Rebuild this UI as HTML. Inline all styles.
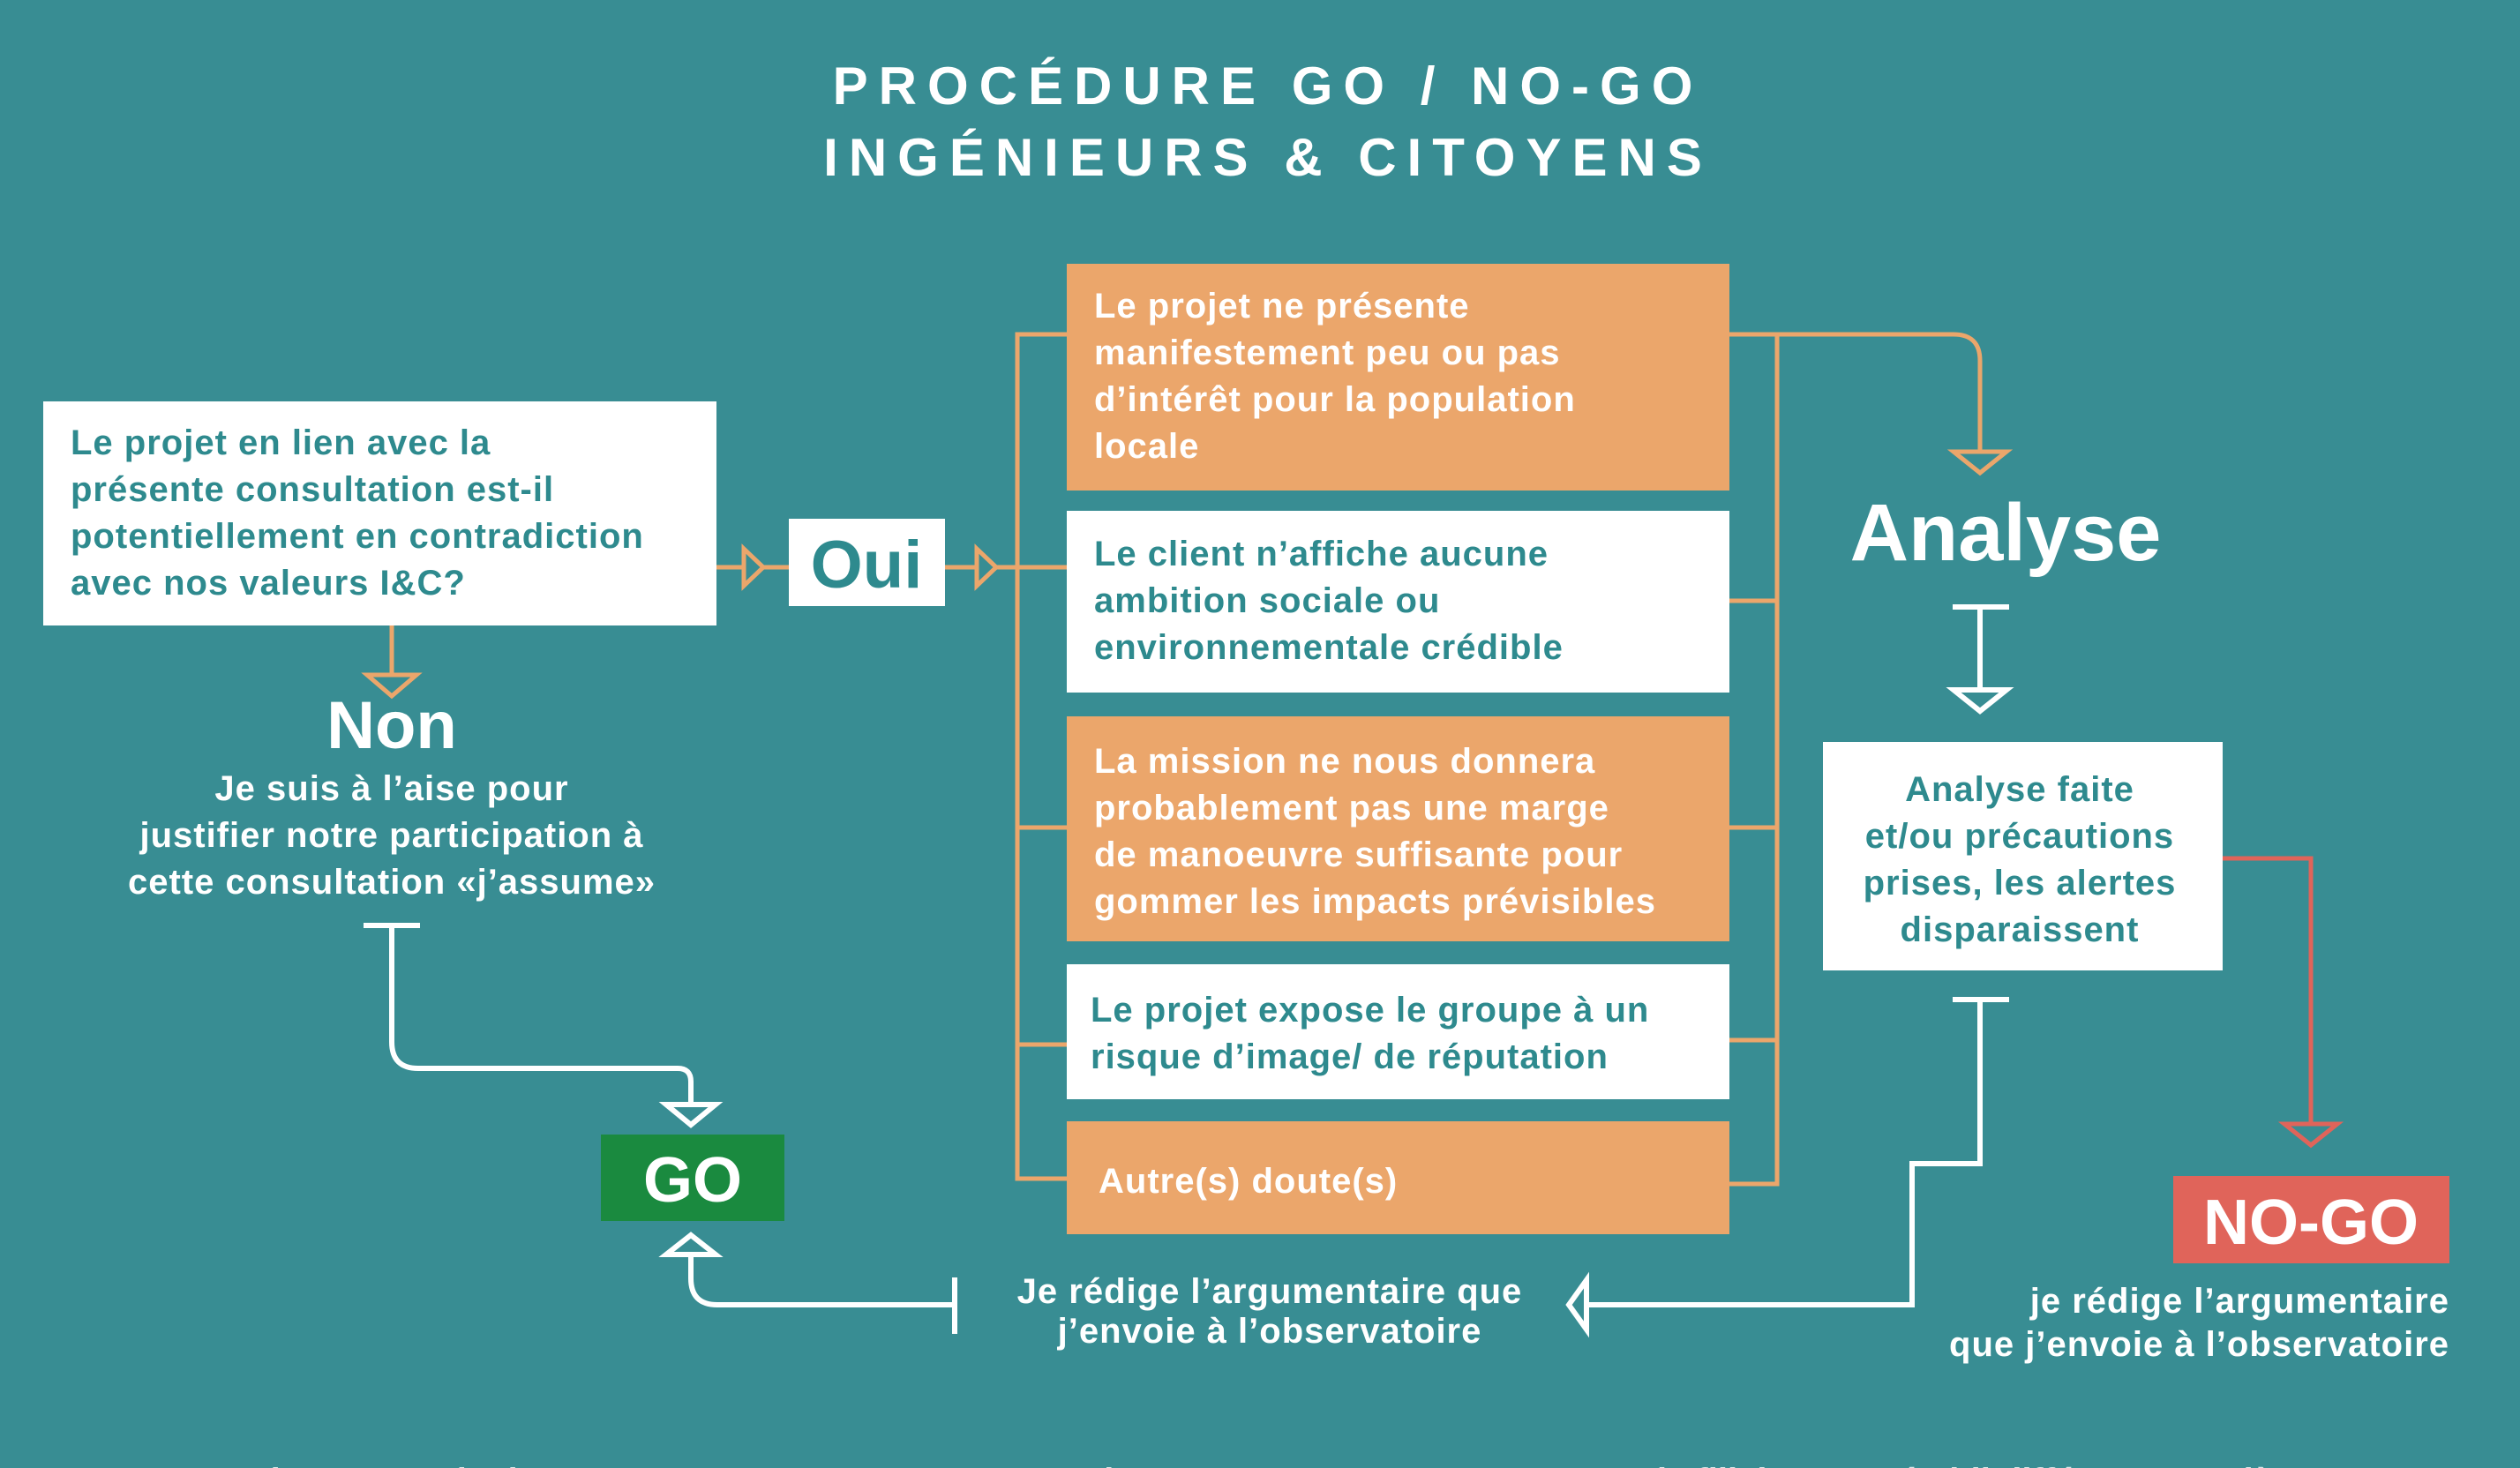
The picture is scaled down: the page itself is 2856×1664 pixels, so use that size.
<!DOCTYPE html>
<html><head><meta charset="utf-8"><style>
html,body{margin:0;padding:0;background:#388d93;}
svg{display:block;}
text{font-family:"Liberation Sans",sans-serif;font-weight:bold;}
</style></head><body>
<svg width="2856" height="1664" viewBox="0 0 2856 1664" xmlns="http://www.w3.org/2000/svg">
<rect width="2856" height="1664" fill="#388d93"/>
<g fill="#fff" font-size="60" text-anchor="middle" letter-spacing="12">
<text x="1437" y="118">PROCÉDURE GO / NO-GO</text>
<text x="1437" y="199">INGÉNIEURS &amp; CITOYENS</text>
</g>

<rect x="49" y="455" width="763" height="254" fill="#fff"/>
<g fill="#2e8a8e" font-size="40" letter-spacing="1">
<text x="80" y="515">Le projet en lien avec la</text>
<text x="80" y="568">présente consultation est-il</text>
<text x="80" y="621">potentiellement en contradiction</text>
<text x="80" y="674">avec nos valeurs I&amp;C?</text>
</g>

<g stroke="#eba66b" stroke-width="5" fill="none">
<line x1="812" y1="643" x2="894" y2="643"/>
<polygon points="843,622 865,643 843,664" fill="#388d93"/>
<line x1="1071" y1="643" x2="1209" y2="643"/>
<polygon points="1107,622 1129,643 1107,664" fill="#388d93"/>
<polyline points="1209,379 1153,379 1153,1336 1209,1336"/>
<line x1="1153" y1="938" x2="1209" y2="938"/>
<line x1="1153" y1="1184" x2="1209" y2="1184"/>
<polyline points="1960,379 2014,379 2014,1342 1960,1342"/>
<line x1="1960" y1="681" x2="2014" y2="681"/>
<line x1="1960" y1="938" x2="2014" y2="938"/>
<line x1="1960" y1="1179" x2="2014" y2="1179"/>
<path d="M2014,379 H2214 Q2244,379 2244,409 V520"/>
<polygon points="2214,512 2274,512 2244,536" fill="#388d93"/>
<line x1="444" y1="709" x2="444" y2="770"/>
<polygon points="416,765 472,765 444,789" fill="#388d93"/>
</g>
<rect x="894" y="588" width="177" height="99" fill="#fff"/>
<text x="982" y="666" fill="#2e8a8e" font-size="76" text-anchor="middle">Oui</text>

<rect x="1209" y="299" width="751" height="257" fill="#eba66b"/>
<rect x="1209" y="579" width="751" height="206" fill="#fff"/>
<rect x="1209" y="812" width="751" height="255" fill="#eba66b"/>
<rect x="1209" y="1093" width="751" height="153" fill="#fff"/>
<rect x="1209" y="1271" width="751" height="128" fill="#eba66b"/>
<g font-size="40" letter-spacing="1">
<g fill="#fff">
<text x="1240" y="360">Le projet ne présente</text>
<text x="1240" y="413">manifestement peu ou pas</text>
<text x="1240" y="466">d’intérêt pour la population</text>
<text x="1240" y="519">locale</text>
<text x="1240" y="876">La mission ne nous donnera</text>
<text x="1240" y="929">probablement pas une marge</text>
<text x="1240" y="982">de manoeuvre suffisante pour</text>
<text x="1240" y="1035">gommer les impacts prévisibles</text>
<text x="1245" y="1352">Autre(s) doute(s)</text>
</g>
<g fill="#2e8a8e">
<text x="1240" y="641">Le client n’affiche aucune</text>
<text x="1240" y="694">ambition sociale ou</text>
<text x="1240" y="747">environnementale crédible</text>
<text x="1236" y="1158">Le projet expose le groupe à un</text>
<text x="1236" y="1211">risque d’image/ de réputation</text>
</g>
</g>

<text x="2273" y="635" fill="#fff" font-size="92" text-anchor="middle">Analyse</text>
<g stroke="#fff" stroke-width="6" fill="none">
<line x1="2213" y1="688" x2="2277" y2="688"/>
<line x1="2244" y1="688" x2="2244" y2="786"/>
<polygon points="2214,782 2274,782 2244,806" fill="#388d93"/>
<line x1="2213" y1="1133" x2="2277" y2="1133"/>
<polyline points="2244,1133 2244,1319 2167,1319 2167,1479 1800,1479"/>
<polygon points="1798,1451 1798,1507 1778,1479" fill="#388d93"/>
<line x1="1082" y1="1448" x2="1082" y2="1512"/>
<path d="M1082,1479 H813 Q783,1479 783,1449 V1418"/>
<polygon points="755,1422 811,1422 783,1400" fill="#388d93"/>
<line x1="412" y1="1049" x2="476" y2="1049"/>
<path d="M444,1049 V1181 Q444,1211 474,1211 H768 Q783,1211 783,1226 V1252"/>
<polygon points="755,1252 811,1252 783,1275" fill="#388d93"/>
</g>
<rect x="2066" y="841" width="453" height="259" fill="#fff"/>
<g fill="#2e8a8e" font-size="40" text-anchor="middle" letter-spacing="1">
<text x="2289" y="908">Analyse faite</text>
<text x="2289" y="961">et/ou précautions</text>
<text x="2289" y="1014">prises, les alertes</text>
<text x="2289" y="1067">disparaissent</text>
</g>
<g stroke="#e0645a" stroke-width="5" fill="none">
<polyline points="2519,973 2619,973 2619,1280"/>
<polygon points="2589,1274 2649,1274 2619,1298" fill="#388d93"/>
</g>
<rect x="2463" y="1333" width="313" height="99" fill="#e0645a"/>
<text x="2619" y="1410" fill="#fff" font-size="72" text-anchor="middle">NO-GO</text>
<g fill="#fff" font-size="40" text-anchor="end" letter-spacing="1">
<text x="2776" y="1488">je rédige l’argumentaire</text>
<text x="2776" y="1537">que j’envoie à l’observatoire</text>
</g>

<text x="444" y="848" fill="#fff" font-size="76" text-anchor="middle">Non</text>
<g fill="#fff" font-size="40" text-anchor="middle" letter-spacing="1">
<text x="444" y="907">Je suis à l’aise pour</text>
<text x="444" y="960">justifier notre participation à</text>
<text x="444" y="1013">cette consultation «j’assume»</text>
<text x="1439" y="1477">Je rédige l’argumentaire que</text>
<text x="1439" y="1522">j’envoie à l’observatoire</text>
</g>
<rect x="681" y="1286" width="208" height="98" fill="#1a8a3f"/>
<text x="785" y="1362" fill="#fff" font-size="72" text-anchor="middle">GO</text>
<text x="1428" y="1692" fill="#fff" font-size="40" text-anchor="middle" opacity="0.8">Un bon exemple de GO-NOGO I&amp;C : pour ne pas amalgamer un pont et une structure de filiale ayant établi différente manière</text>
</svg>
</body></html>
